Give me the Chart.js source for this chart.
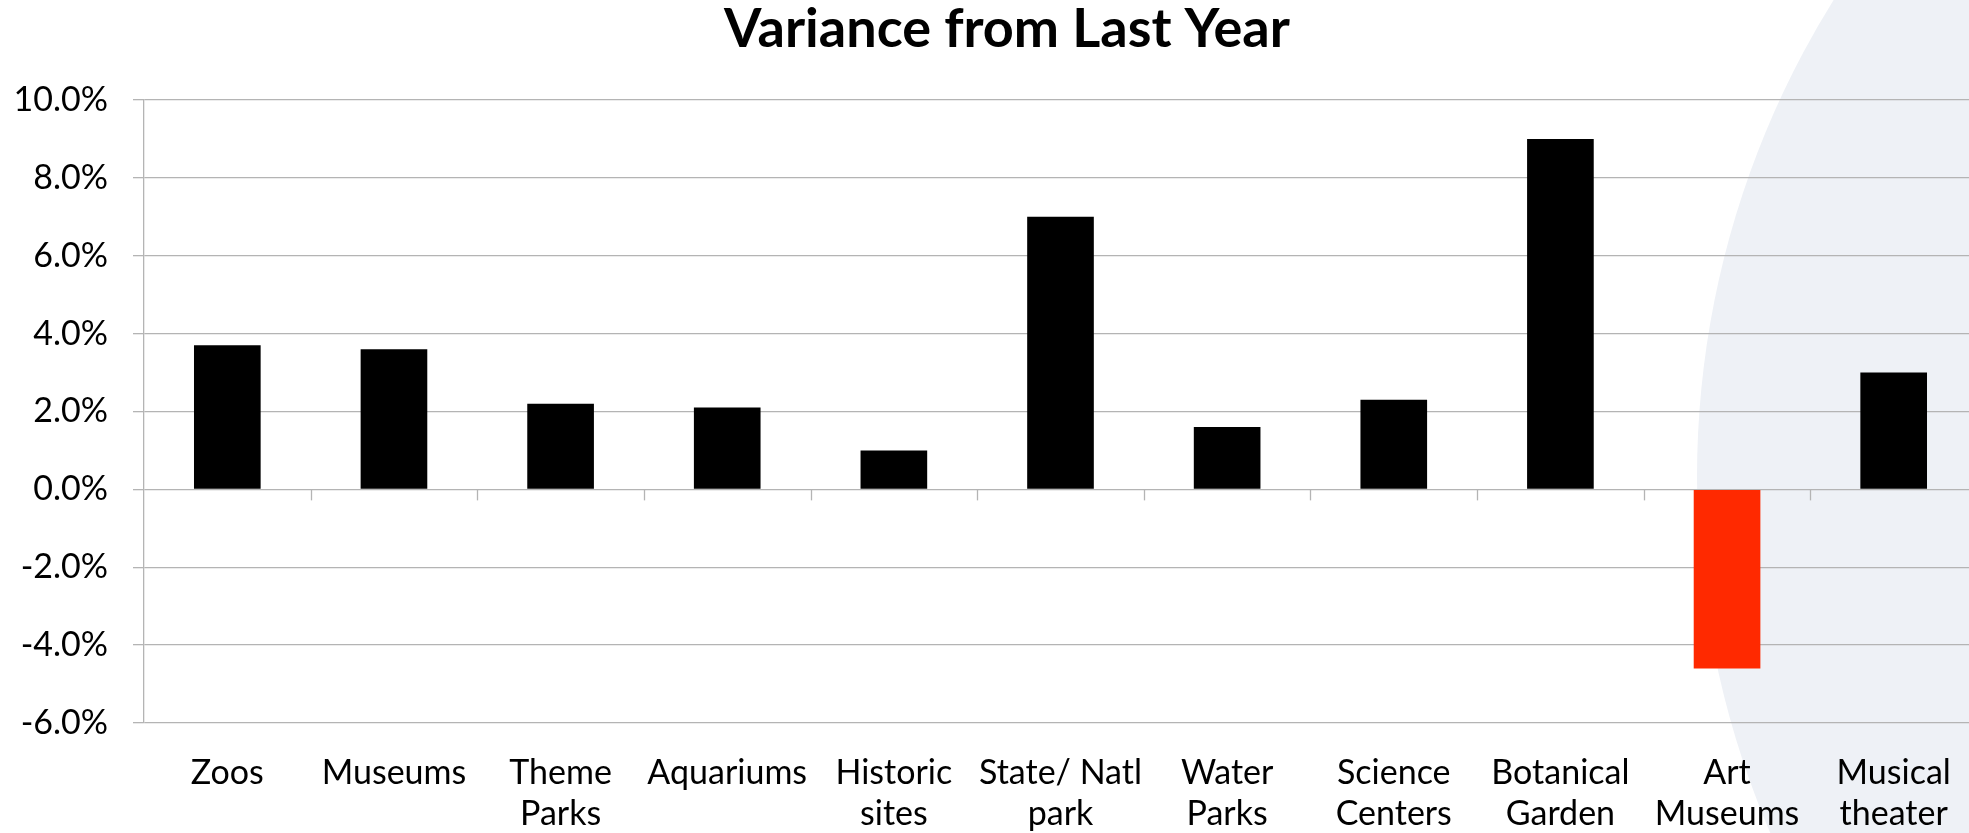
<!DOCTYPE html>
<html>
<head>
<meta charset="utf-8">
<script src="https://cdn.jsdelivr.net/npm/chart.js@4/dist/chart.umd.min.js"></script>
<style>
  html, body { margin: 0; padding: 0; background: #fff; overflow: hidden; }
  #wrap { position: absolute; left: 0; top: 0; width: 2014px; height: 833px; }
</style>
</head>
<body>
<div id="wrap"><canvas id="chart" width="2014" height="833"></canvas></div>
<script>
// data
const categories = [
  'Zoos', 'Museums', ['Theme', 'Parks'], 'Aquariums', ['Historic', 'sites'],
  ['State/ Natl', 'park'], ['Water', 'Parks'], ['Science', 'Centers'],
  ['Botanical', 'Garden'], ['Art', 'Museums'], ['Musical', 'theater']
];
const variance = [3.7, 3.6, 2.2, 2.1, 1.0, 7.0, 1.6, 2.3, 9.0, -4.6, 3.0];
const yTicks = [-6, -4, -2, 0, 2, 4, 6, 8, 10];

const FONT = 'Lato, "Open Sans", sans-serif';
const GRID = '#b4b4b4';

// pale disc in the background (slide decoration)
const backdrop = {
  id: 'backdrop',
  beforeDraw(chart) {
    const ctx = chart.ctx;
    ctx.save();
    ctx.fillStyle = '#ffffff';
    ctx.fillRect(0, 0, chart.width, chart.height);
    ctx.fillStyle = '#eef1f6';
    ctx.beginPath();
    ctx.arc(2598, 477, 901, 0, Math.PI * 2);
    ctx.fill();
    ctx.restore();
  }
};

// small category ticks hanging under the zero line
const zeroTicks = {
  id: 'zeroTicks',
  beforeDatasetsDraw(chart) {
    const x = chart.scales.x, y = chart.scales.y;
    const y0 = y.getPixelForValue(0);
    const ctx = chart.ctx;
    ctx.save();
    ctx.strokeStyle = GRID;
    ctx.lineWidth = 1.3;
    for (let i = 1; i <= categories.length; i++) {
      const px = Math.round(x.getPixelForValue(i - 0.5)) + 0.5;
      ctx.beginPath();
      ctx.moveTo(px, y0);
      ctx.lineTo(px, y0 + 11);
      ctx.stroke();
    }
    ctx.restore();
  }
};

new Chart(document.getElementById('chart'), {
  type: 'bar',
  data: {
    labels: categories,
    datasets: [{
      data: variance,
      backgroundColor: variance.map(v => v < 0 ? '#ff2900' : '#000000'),
      categoryPercentage: 1,
      barPercentage: 0.4
    }]
  },
  options: {
    responsive: false,
    animation: false,
    layout: { padding: 0 },
    plugins: {
      legend: { display: false },
      tooltip: { enabled: false },
      title: {
        display: true,
        text: 'Variance from Last Year',
        color: '#000',
        font: { family: FONT, size: 54, weight: 'bold', lineHeight: 1.1 },
        padding: { top: 0, bottom: 40.6 }
      }
    },
    scales: {
      x: {
        grid: { display: false },
        border: { display: false },
        ticks: {
          color: '#000',
          font: { family: FONT, size: 34, lineHeight: 1.21 },
          padding: 21,
          maxRotation: 0,
          autoSkip: false
        },
        afterFit(scale) { scale.height = 110; }
      },
      y: {
        min: -6,
        max: 10,
        afterBuildTicks(scale) { scale.ticks = yTicks.map(v => ({ value: v })); },
        grid: { color: GRID, lineWidth: 1.3, tickLength: 11 },
        border: { display: true, color: GRID, width: 1.3 },
        ticks: {
          color: '#000',
          font: { family: FONT, size: 34 },
          padding: 25,
          callback: v => v.toFixed(1) + '%'
        },
        afterFit(scale) { scale.width = 144; }
      },
      // empty right-hand spacer so the title stays centred on the full width
      yRight: {
        position: 'right',
        min: -6,
        max: 10,
        grid: { display: false, drawOnChartArea: false },
        border: { display: false },
        ticks: { display: false },
        afterFit(scale) { scale.width = 37; }
      }
    }
  },
  plugins: [backdrop, zeroTicks]
});
</script>
</body>
</html>
